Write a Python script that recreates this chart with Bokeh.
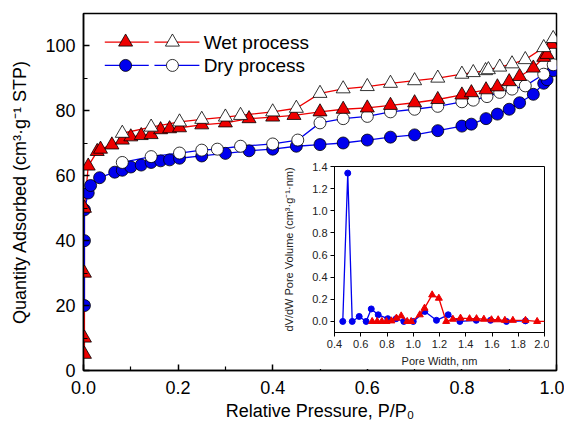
from bokeh.plotting import figure
from bokeh.models import Range1d, FixedTicker
from bokeh.embed import file_html
from bokeh.resources import INLINE
from bokeh.core.properties import value

# ---- data: main isotherms ----
wet_ads_p = [0.002, 0.002, 0.002, 0.002, 0.01, 0.029, 0.036, 0.06, 0.082, 0.1, 0.122, 0.143, 0.163, 0.182,
             0.203, 0.25, 0.30, 0.35, 0.40, 0.445, 0.50, 0.549, 0.60, 0.649, 0.70, 0.749, 0.80, 0.82,
             0.851, 0.875, 0.90, 0.922, 0.951, 0.973, 0.98, 0.99]
wet_ads_v = [5, 10, 30, 50, 63, 67.5, 68.2, 69.5, 71, 72, 72.4, 72.7, 74.2, 74.5, 74.8, 75.7, 76.3, 77.6,
             78.1, 78.6, 79.7, 80.5, 80.9, 81.7, 82.5, 83.5, 84.9, 85.6, 86.5, 87.4, 89, 90.6, 93.2,
             96.5, 97.4, 100.5]
wet_des_p = [0.082, 0.143, 0.203, 0.25, 0.30, 0.332, 0.40, 0.45, 0.50, 0.549, 0.60, 0.649, 0.70, 0.749,
             0.80, 0.824, 0.85, 0.856, 0.88, 0.906, 0.934, 0.973, 0.993]
wet_des_v = [73.1, 75, 76.6, 77.4, 78.1, 78.6, 79.7, 80.8, 85.4, 86.8, 87.5, 88.5, 89.3, 90.1, 91.3, 91.8,
             92.4, 92.7, 93.5, 94.5, 95.8, 99.5, 102.3]
dry_ads_p = [0.002, 0.002, 0.002, 0.01, 0.015, 0.034, 0.066, 0.082, 0.1, 0.122, 0.143, 0.163, 0.182,
             0.203, 0.25, 0.30, 0.35, 0.40, 0.45, 0.50, 0.549, 0.60, 0.649, 0.70, 0.749, 0.80, 0.82,
             0.851, 0.875, 0.90, 0.922, 0.951, 0.973, 0.98, 0.993]
dry_ads_v = [20, 40, 49.5, 54.7, 57, 59.4, 61.1, 61.7, 62.7, 63.3, 64.1, 64.6, 64.9, 65.4, 66.1, 66.9,
             67.7, 68.2, 69.1, 69.6, 70.1, 71, 71.9, 72.6, 73.9, 75.3, 75.9, 77.6, 79, 80.5, 82.5, 85.1,
             88.5, 89.6, 92.4]
dry_des_p = [0.082, 0.143, 0.203, 0.25, 0.283, 0.332, 0.40, 0.453, 0.50, 0.549, 0.60, 0.649, 0.70,
             0.749, 0.80, 0.824, 0.853, 0.88, 0.906, 0.934, 0.973, 0.993]
dry_des_v = [64.1, 65.9, 67, 67.9, 68.2, 69.1, 69.8, 71, 76.3, 77.6, 78.3, 79.7, 80.5, 81.4, 82.8, 83.3,
             84.4, 85.7, 86.7, 87.7, 91.3, 94.2]

# ---- data: inset pore size distribution ----
dry_w = [0.463, 0.501, 0.535, 0.588, 0.641, 0.68, 0.733, 0.806, 0.87, 0.928, 1.0, 1.088, 1.177, 1.266,
         1.355, 1.48, 1.589, 1.71, 1.855]
dry_dv = [0, 1.34, 0, 0.045, 0, 0.113, 0.06, 0.025, 0.025, 0, 0, 0.09, 0.01, 0.06, 0, 0.01, 0.01, 0,
          0.005]
wet_w = [0.687, 0.725, 0.761, 0.796, 0.834, 0.872, 0.908, 0.954, 0.984, 1.05, 1.086, 1.144, 1.195,
         1.251, 1.302, 1.36, 1.429, 1.482, 1.538, 1.596, 1.647, 1.698, 1.759, 1.855, 1.944]
wet_dv = [0, 0, 0, 0, 0.005, 0.03, 0.05, 0, 0, 0.06, 0.12, 0.24, 0.21, 0, 0.02, 0.03, 0.025, 0.025,
          0.02, 0.015, 0.015, 0.01, 0.01, 0.01, 0]

main_xticks = [0, 0.2, 0.4, 0.6, 0.8, 1.0]
main_xminor = [0.1, 0.3, 0.5, 0.7, 0.9]
main_yticks = [0, 20, 40, 60, 80, 100]
main_yminor = [10, 30, 50, 70, 90, 110]
inset_xticks = [0.4, 0.6, 0.8, 1.0, 1.2, 1.4, 1.6, 1.8, 2.0]
inset_yticks = [0.0, 0.2, 0.4, 0.6, 0.8, 1.0, 1.2, 1.4]

RED = "#ee0000"
BLUE = "#0000ee"
FONT = "Liberation Sans"

p = figure(width=564, height=423, x_range=Range1d(0, 1), y_range=Range1d(0, 110),
           output_backend="svg", toolbar_location=None,
           min_border_left=83, min_border_right=8, min_border_top=13, min_border_bottom=52)
p.xgrid.visible = False
p.ygrid.visible = False
p.outline_line_color = "black"
p.outline_line_width = 1.5
p.background_fill_color = "white"
p.border_fill_color = "white"

p.xaxis.ticker = FixedTicker(ticks=main_xticks, minor_ticks=main_xminor)
p.yaxis.ticker = FixedTicker(ticks=main_yticks, minor_ticks=main_yminor)
p.xaxis.major_label_overrides = {0: "0.0", 1: "1.0"}
for ax in (p.xaxis, p.yaxis):
    ax.axis_line_width = 1.5
    ax.major_tick_in = 6
    ax.major_tick_out = 0
    ax.minor_tick_in = 4
    ax.minor_tick_out = 0
    ax.major_tick_line_width = 1.5
    ax.minor_tick_line_width = 1.2
    ax.major_label_text_font = FONT
    ax.major_label_text_font_size = "18px"
    ax.major_label_text_color = "black"
    ax.axis_label_text_font = FONT
    ax.axis_label_text_font_size = "18px"
    ax.axis_label_text_font_style = "normal"
    ax.axis_label_text_color = "black"
p.xaxis.axis_label = "Relative Pressure, P/P\u2080"
p.yaxis.axis_label = "Quantity Adsorbed (cm\u00b3\u00b7g\u207b\u00b9 STP)"
p.xaxis.major_label_standoff = 10
p.yaxis.major_label_standoff = 8
p.xaxis.axis_label_standoff = 4
p.yaxis.axis_label_standoff = 12

# lines
p.line(wet_des_p, wet_des_v, line_color=RED, line_width=1.3)
p.line(wet_ads_p, wet_ads_v, line_color=RED, line_width=1.3)
p.line(dry_des_p, dry_des_v, line_color=BLUE, line_width=1.3)
p.line(dry_ads_p, dry_ads_v, line_color=BLUE, line_width=1.3)
# markers
p.scatter(dry_ads_p, dry_ads_v, marker="circle", size=12, fill_color=BLUE, line_color="black", line_width=0.8)
p.scatter(dry_des_p, dry_des_v, marker="circle", size=12, fill_color="white", line_color="black", line_width=0.8)
p.scatter(wet_ads_p, wet_ads_v, marker="triangle", size=14, fill_color=RED, line_color="black", line_width=0.8)
p.scatter(wet_des_p, wet_des_v, marker="triangle", size=14, fill_color="white", line_color="black", line_width=0.8)

# legend (drawn manually)
for yv, col, mk, sz, lab in [(101.2, RED, "triangle", 14, "Wet process"),
                              (94.0, BLUE, "circle", 12, "Dry  process")]:
    p.line([0.045, 0.138], [yv, yv], line_color=col, line_width=1.3)
    p.line([0.150, 0.245], [yv, yv], line_color=col, line_width=1.3)
    p.scatter([0.089], [yv], marker=mk, size=sz, fill_color=col, line_color="black", line_width=0.8)
    p.scatter([0.188], [yv], marker=mk, size=sz, fill_color="white", line_color="black", line_width=0.8)
    p.text([0.254], [yv], text=[lab], text_font=value(FONT), text_font_size="19px",
           text_baseline="middle", text_color="black")

# ---- inset ----
q = figure(width=269, height=208, x_range=Range1d(0.4, 2.0), y_range=Range1d(-0.1, 1.4),
           output_backend="svg", toolbar_location=None,
           min_border_left=54, min_border_right=5, min_border_top=5, min_border_bottom=32)
q.xgrid.visible = False
q.ygrid.visible = False
q.outline_line_color = "black"
q.outline_line_width = 1
q.background_fill_color = "white"
q.border_fill_color = "white"
q.xaxis.ticker = FixedTicker(ticks=inset_xticks, minor_ticks=[])
q.yaxis.ticker = FixedTicker(ticks=inset_yticks, minor_ticks=[])
q.xaxis.major_label_overrides = {1.0: "1.0", 2.0: "2.0"}
q.yaxis.major_label_overrides = {0.0: "0.0", 1.0: "1.0"}
for ax in (q.xaxis, q.yaxis):
    ax.axis_line_width = 1
    ax.major_tick_in = 0
    ax.major_tick_out = 4
    ax.major_label_text_font = FONT
    ax.major_label_text_font_size = "11px"
    ax.major_label_text_color = "#222222"
    ax.axis_label_text_font = FONT
    ax.axis_label_text_font_size = "11px"
    ax.axis_label_text_font_style = "normal"
    ax.axis_label_text_color = "#222222"
    ax.major_label_standoff = 3
    ax.axis_label_standoff = 4
q.yaxis.axis_label_standoff = 14
q.xaxis.axis_label = "Pore Width, nm"
q.yaxis.axis_label = "dV/dW Pore Volume (cm\u00b3\u00b7g\u207b\u00b9\u00b7nm)"

q.line(dry_w, dry_dv, line_color=BLUE, line_width=1.3)
q.scatter(dry_w, dry_dv, marker="circle", size=6, fill_color=BLUE, line_color=BLUE)
q.line(wet_w + [2.0], wet_dv + [0.0], line_color=RED, line_width=1.3)
q.scatter(wet_w, wet_dv, marker="triangle", size=7, fill_color=RED, line_color=RED)

q.styles = {"position": "absolute", "left": "280px", "top": "161px"}

open("out.html", "w").write(file_html([p, q], INLINE))
